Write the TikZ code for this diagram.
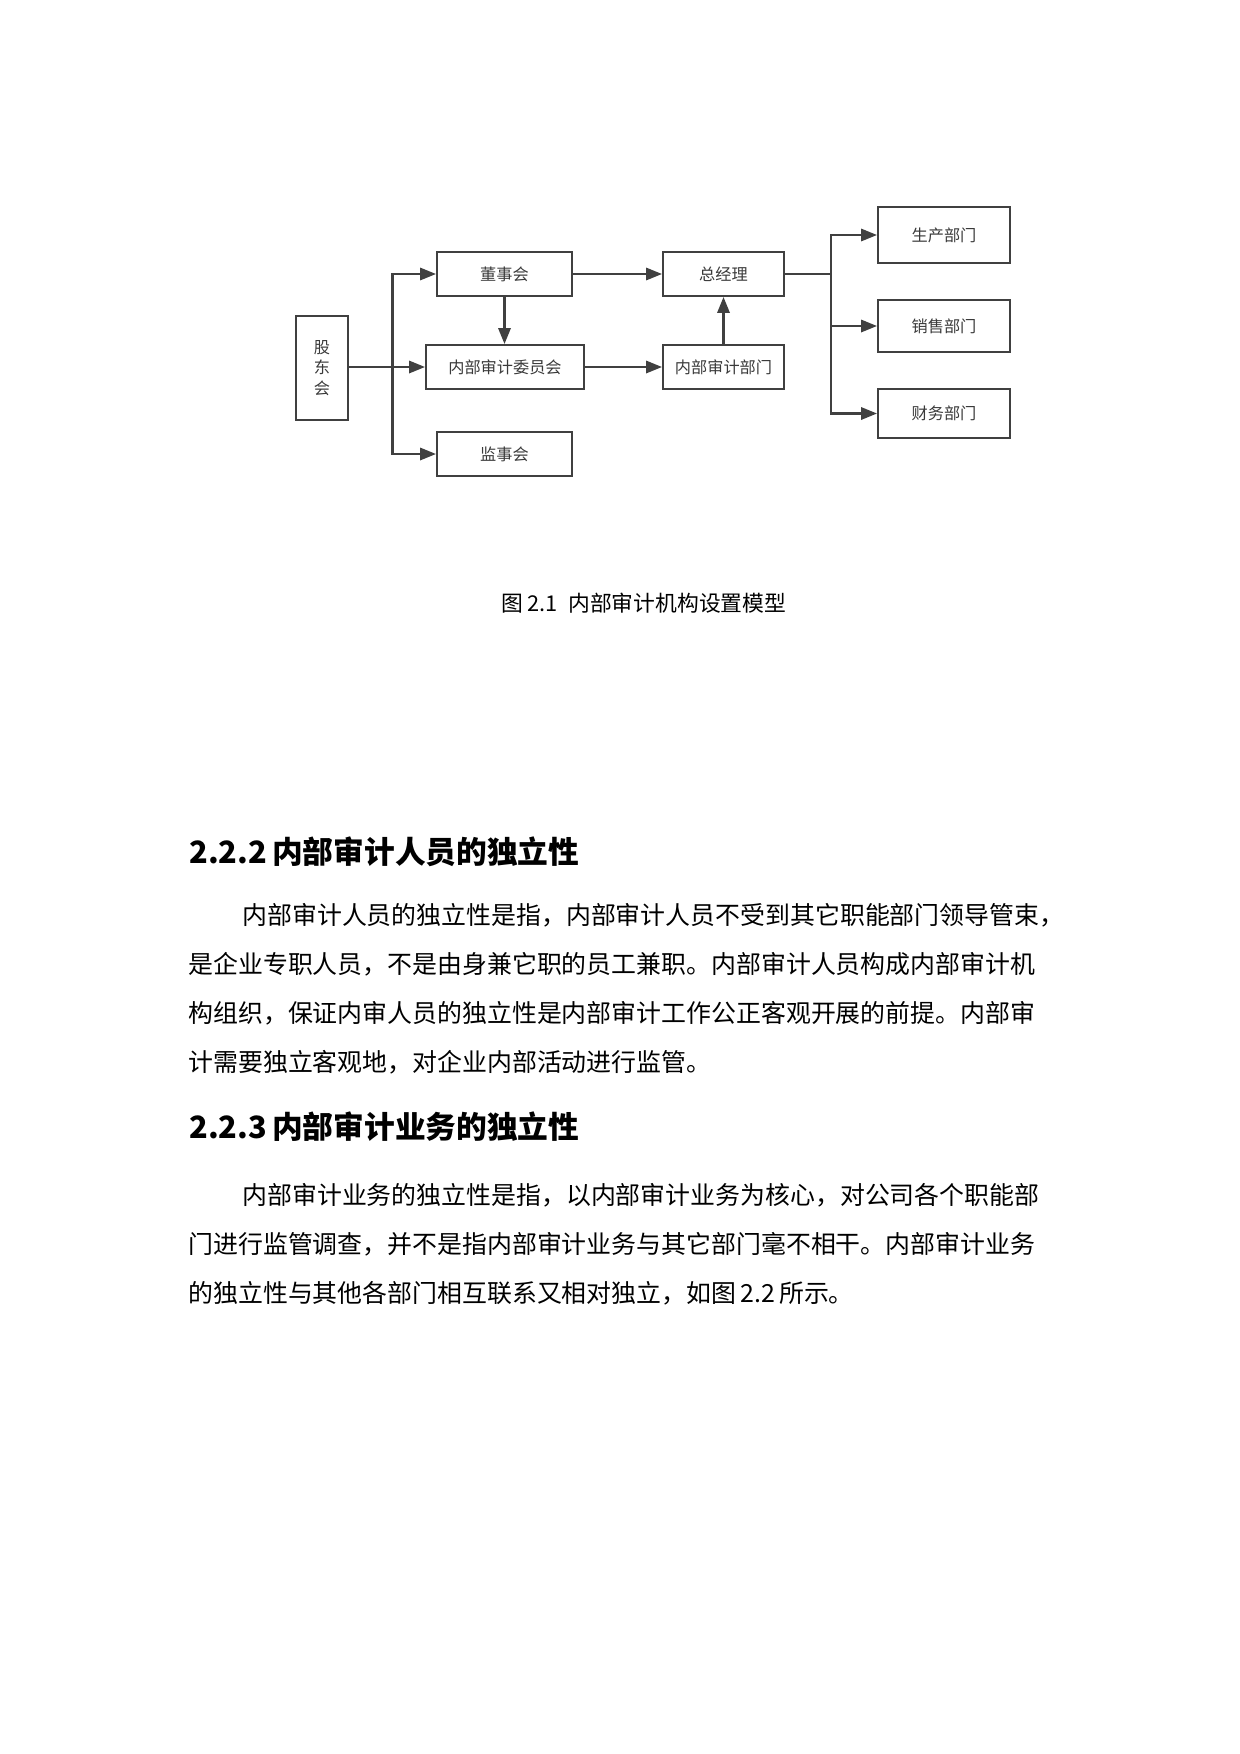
\documentclass[tikz,border=0pt]{standalone}
\usepackage{fontspec}
\setmainfont{Noto Sans CJK SC}
\usetikzlibrary{arrows.meta, positioning}
\definecolor{boxline}{HTML}{404040}
\definecolor{boxtext}{HTML}{3A3A3A}
\def\px{0.16935mm}

\begin{document}
\begin{tikzpicture}[
    x=0.16935mm, y=-0.16935mm,
    box/.style={rectangle, draw=boxline, line width=1pt, minimum width=135*\px, minimum height=44*\px, inner sep=0pt, font=\fontsize{7.8}{9.8}\selectfont, text=boxtext, align=center},
    link/.style={line width=1pt, color=boxline},
    arrow/.style={link, -{Triangle[length=2.7mm, width=2.1mm]}},
    bodyline/.style={anchor=west, inner sep=0pt, font=\fontsize{12}{14}\selectfont},
    heading/.style={anchor=west, inner sep=0pt, font=\fontsize{14.8}{17}\selectfont\bfseries}
]
\fill[white] (0,0) rectangle (1240,1754);
\useasboundingbox (0,0) rectangle (1240,1754);

% Boxes of the chart
\node[box, minimum width=52*\px, minimum height=104*\px] (gd) at (322,368) {股\\东\\会};
\node[box] (dsh) at (504.5,274) {董事会};
\node[box, minimum width=158*\px] (wyh) at (505,367) {内部审计委员会};
\node[box] (jsh) at (504.5,454) {监事会};
\node[box, minimum width=121*\px] (zjl) at (723.5,274) {总经理};
\node[box, minimum width=121*\px] (sjbm) at (723.5,367) {内部审计部门};
\node[box, minimum width=132*\px, minimum height=56*\px] (sc) at (944,235) {生产部门};
\node[box, minimum width=132*\px, minimum height=52*\px] (xs) at (944,326) {销售部门};
\node[box, minimum width=132*\px, minimum height=49*\px] (cw) at (944,413.5) {财务部门};

% Forks
\coordinate (fl) at (392.5,367);
\coordinate (fr) at (831,274);

% Connectors
\draw[arrow] (gd.east |- wyh.west) -- (wyh.west);
\draw[arrow] (fl) |- (dsh.west);
\draw[arrow] (fl) |- (jsh.west);
\draw[arrow] (dsh.east) -- (zjl.west);
\draw[arrow] (dsh.south) -- (dsh.south |- wyh.north);
\draw[arrow] (wyh.east) -- (sjbm.west);
\draw[arrow] (sjbm.north) -- (zjl.south);
\draw[link] (zjl.east) -- (fr);
\draw[arrow] (fr) |- (sc.west);
\draw[arrow] (fr) |- (xs.west);
\draw[arrow] (fr) |- (cw.west);

% Caption
\node[inner sep=0pt, font=\fontsize{10.5}{12}\selectfont] (cap) at (644,603) {图\,2.1\enspace 内部审计机构设置模型};

% Section 2.2.2
\node[heading] (h1) at (189,852) {2.2.2\,内部审计人员的独立性};
\node[bodyline] (p1a) at (242,915) {内部审计人员的独立性是指，内部审计人员不受到其它职能部门领导管束，};
\node[bodyline] (p1b) at (188,964) {是企业专职人员，不是由身兼它职的员工兼职。内部审计人员构成内部审计机};
\node[bodyline] (p1c) at (188,1013) {构组织，保证内审人员的独立性是内部审计工作公正客观开展的前提。内部审};
\node[bodyline] (p1d) at (188,1062) {计需要独立客观地，对企业内部活动进行监管。};

% Section 2.2.3
\node[heading] (h2) at (189,1127) {2.2.3\,内部审计业务的独立性};
\node[bodyline] (p2a) at (242,1195) {内部审计业务的独立性是指，以内部审计业务为核心，对公司各个职能部};
\node[bodyline] (p2b) at (188,1244) {门进行监管调查，并不是指内部审计业务与其它部门毫不相干。内部审计业务};
\node[bodyline] (p2c) at (188,1293) {的独立性与其他各部门相互联系又相对独立，如图\,2.2\,所示。};

\end{tikzpicture}
\end{document}
